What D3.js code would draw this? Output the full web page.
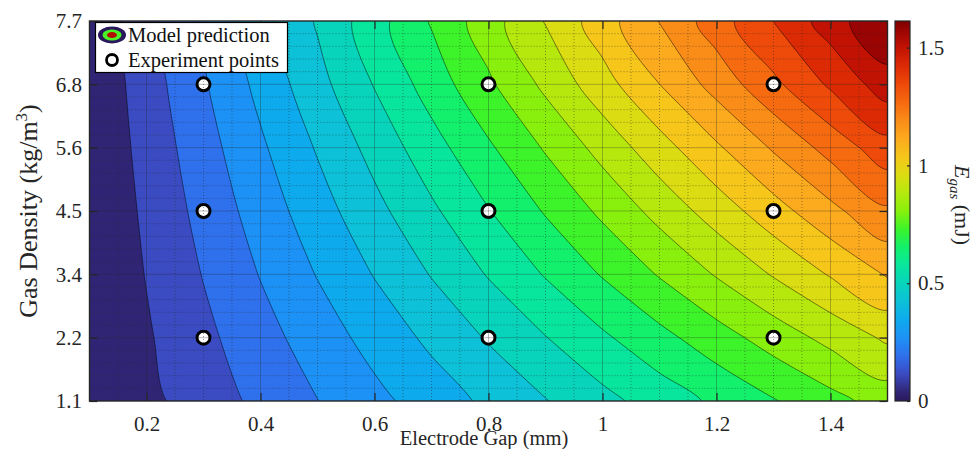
<!DOCTYPE html>
<html>
<head>
<meta charset="utf-8">
<script src="https://cdn.jsdelivr.net/npm/d3@7"></script>
<style>
  body { margin: 0; background: #fff; }
  svg { display: block; font-family: "Liberation Serif", "Times New Roman", serif; }
</style>
</head>
<body>
<svg id="chart" width="977" height="449"></svg>
<script>
// Electrode gap samples (mm): grid columns
const gapValues = [0.1, 0.2, 0.3, 0.4, 0.5, 0.6, 0.7, 0.8, 0.9, 1.0, 1.1, 1.2, 1.3, 1.4, 1.5];
// Gas density rows (kg/m^3), also used as the y tick labels
const densityValues = [1.1, 2.2, 3.4, 4.5, 5.6, 6.8, 7.7];

// Model prediction of E_gas (mJ) along each density row
const egasRho1_1 = [0.000, 0.057, 0.114, 0.172, 0.229, 0.286, 0.343, 0.400, 0.457, 0.515, 0.572, 0.629, 0.686, 0.743, 0.801];
const egasRho2_2 = [0.001, 0.068, 0.135, 0.201, 0.268, 0.335, 0.401, 0.468, 0.535, 0.602, 0.668, 0.735, 0.802, 0.868, 0.935];
const egasRho3_4 = [0.003, 0.080, 0.157, 0.234, 0.311, 0.388, 0.465, 0.543, 0.620, 0.697, 0.774, 0.851, 0.928, 1.005, 1.082];
const egasRho4_5 = [0.004, 0.091, 0.178, 0.264, 0.351, 0.438, 0.524, 0.611, 0.698, 0.784, 0.871, 0.957, 1.044, 1.131, 1.217];
const egasRho5_6 = [0.007, 0.103, 0.199, 0.295, 0.391, 0.487, 0.584, 0.680, 0.776, 0.872, 0.968, 1.064, 1.161, 1.257, 1.353];
const egasRho6_8 = [0.009, 0.116, 0.222, 0.329, 0.435, 0.542, 0.649, 0.755, 0.862, 0.968, 1.075, 1.181, 1.288, 1.395, 1.501];
const egasRho7_7 = [0.011, 0.126, 0.240, 0.355, 0.469, 0.583, 0.698, 0.812, 0.926, 1.041, 1.155, 1.270, 1.384, 1.498, 1.613];

// Experiment points (gap, density)
const expGap = [0.3, 0.3, 0.3, 0.8, 0.8, 0.8, 1.3, 1.3, 1.3];
const expDensity = [2.2, 4.5, 6.8, 2.2, 4.5, 6.8, 2.2, 4.5, 6.8];

// Axis ticks
const gapTicks = [0.2, 0.4, 0.6, 0.8, 1, 1.2, 1.4];
const colorbarTicks = [0, 0.5, 1, 1.5];
const levelCount = 20;

// Colormap (position along the colour range -> colour)
const cmapPos = [0, 0.024, 0.071, 0.119, 0.167, 0.214, 0.262, 0.310, 0.357, 0.405, 0.452, 0.500,
                 0.548, 0.595, 0.643, 0.690, 0.738, 0.786, 0.833, 0.881, 0.929, 0.976, 1];
const cmapHex = ["#2a185c", "#302574", "#3b4bc2", "#2f70ec", "#1d92f6", "#0eaaee", "#0cc1d8", "#08d4bc",
                 "#08e69e", "#12f06c", "#3cf42a", "#88f00c", "#b6e80e", "#dcdc12", "#f6c61a", "#fcaa1e",
                 "#fa8c18", "#f66a10", "#ee4a0a", "#dc2a05", "#c21203", "#9a0402", "#7e0000"];

const plot = { left: 89.5, right: 887.5, top: 21, bottom: 401 };
const cbar = { left: 895, right: 910 };
const ink = "#262626";

const svg = d3.select("#chart");
const defs = svg.append("defs");
defs.append("clipPath").attr("id", "plotClip").append("rect")
  .attr("x", plot.left).attr("y", plot.top)
  .attr("width", plot.right - plot.left).attr("height", plot.bottom - plot.top);

// Scales
const x = d3.scaleLinear().domain([gapValues[0], gapValues[gapValues.length - 1]]).range([plot.left, plot.right]);
const yIdx = d3.scaleLinear().domain([0, densityValues.length - 1]).range([plot.bottom, plot.top]);
const y = d3.scaleLinear().domain(densityValues).range(densityValues.map((d, i) => yIdx(i)));
const cmap = d3.scaleLinear().domain(cmapPos).range(cmapHex).interpolate(d3.interpolateRgb).clamp(true);

const egasGrid = [egasRho1_1, egasRho2_2, egasRho3_4, egasRho4_5, egasRho5_6, egasRho6_8, egasRho7_7];
const flat = egasGrid.flat();
const nx = gapValues.length, ny = densityValues.length;
const zMin = d3.min(flat), zMax = d3.max(flat);
const levelStep = (zMax - zMin) / (levelCount + 1);
const levels = d3.range(1, levelCount + 1).map(i => zMin + levelStep * i);
const tOf = v => (v - zMin) / (zMax - zMin);
// each band is shaded with the colour at the middle of its level interval
const bandColor = lower => cmap(tOf(lower + levelStep / 2));

// Filled contours
const contours = d3.contours().size([nx, ny]).thresholds(levels)(flat);
const gx = d3.scaleLinear().domain([0.5, nx - 0.5]).range([x(gapValues[0]), x(gapValues[nx - 1])]);
const gy = d3.scaleLinear().domain([0.5, ny - 0.5]).range([yIdx(0), yIdx(ny - 1)]);
const ringLine = d3.line().curve(d3.curveCatmullRomClosed.alpha(0.5));
const contourPath = c => c.coordinates.map(poly =>
  poly.map(ring => ringLine(ring.slice(0, -1).map(([a, b]) => [gx(a), gy(b)]))).join("")
).join("");

const field = svg.append("g").attr("clip-path", "url(#plotClip)");
field.append("rect")
  .attr("x", plot.left).attr("y", plot.top)
  .attr("width", plot.right - plot.left).attr("height", plot.bottom - plot.top)
  .attr("fill", bandColor(zMin));
field.selectAll("path.band").data(contours).join("path")
  .attr("class", "band")
  .attr("d", contourPath)
  .attr("fill", d => bandColor(d.value));
field.selectAll("path.iso").data(contours).join("path")
  .attr("class", "iso")
  .attr("d", contourPath)
  .attr("fill", "none")
  .attr("stroke", "#000")
  .attr("stroke-opacity", 0.8)
  .attr("stroke-width", 0.6);

// Experiment points
const pts = d3.range(expGap.length).map(i => ({ g: expGap[i], r: expDensity[i] }));
field.selectAll("circle.exp").data(pts).join("circle")
  .attr("class", "exp")
  .attr("cx", d => x(d.g)).attr("cy", d => y(d.r))
  .attr("r", 6.5)
  .attr("fill", "#fff")
  .attr("stroke", "#000")
  .attr("stroke-width", 3);

// Grid (drawn over the field)
const grid = svg.append("g").attr("clip-path", "url(#plotClip)");
const minorGap = d3.range(3, 30).filter(k => k % 4 !== 0).map(k => k * 0.05);
const minorRow = [];
for (let i = 0; i < ny - 1; i++) for (let j = 1; j < 5; j++) minorRow.push(yIdx(i + j / 5));
grid.selectAll("line.mx").data(minorGap).join("line")
  .attr("x1", d => x(d)).attr("x2", d => x(d))
  .attr("y1", plot.top).attr("y2", plot.bottom)
  .attr("stroke", ink).attr("stroke-opacity", 0.45)
  .attr("stroke-dasharray", "1,2").attr("stroke-width", 1);
grid.selectAll("line.my").data(minorRow).join("line")
  .attr("x1", plot.left).attr("x2", plot.right)
  .attr("y1", d => d).attr("y2", d => d)
  .attr("stroke", ink).attr("stroke-opacity", 0.45)
  .attr("stroke-dasharray", "1,2").attr("stroke-width", 1);
grid.selectAll("line.gx").data(gapTicks).join("line")
  .attr("x1", d => x(d)).attr("x2", d => x(d))
  .attr("y1", plot.top).attr("y2", plot.bottom)
  .attr("stroke", ink).attr("stroke-opacity", 0.3).attr("stroke-width", 1);
grid.selectAll("line.gy").data(densityValues.slice(1, -1)).join("line")
  .attr("x1", plot.left).attr("x2", plot.right)
  .attr("y1", d => y(d)).attr("y2", d => y(d))
  .attr("stroke", ink).attr("stroke-opacity", 0.3).attr("stroke-width", 1);

// Axes
const tickFont = "21px";
function styleAxis(g) {
  g.select(".domain").remove();
  g.selectAll(".tick line").attr("stroke", ink).attr("stroke-width", 1.2);
  g.selectAll(".tick text").attr("fill", ink).style("font-size", tickFont)
    .style("font-family", '"Liberation Serif", "Times New Roman", serif');
}
svg.append("g").attr("transform", `translate(0,${plot.bottom})`)
  .call(d3.axisBottom(x).tickValues(gapTicks).tickFormat(d3.format("~f"))
    .tickSizeInner(-8).tickSizeOuter(0).tickPadding(15))
  .call(styleAxis);
svg.append("g").attr("transform", `translate(0,${plot.top})`)
  .call(d3.axisTop(x).tickValues(gapTicks).tickFormat("").tickSizeInner(-8).tickSizeOuter(0))
  .call(styleAxis);
svg.append("g").attr("transform", `translate(${plot.left},0)`)
  .call(d3.axisLeft(y).tickValues(densityValues).tickFormat(d3.format(".1f"))
    .tickSizeInner(-8).tickSizeOuter(0).tickPadding(7.5))
  .call(styleAxis);
svg.append("g").attr("transform", `translate(${plot.right},0)`)
  .call(d3.axisRight(y).tickValues(densityValues).tickFormat("").tickSizeInner(-8).tickSizeOuter(0))
  .call(styleAxis);
svg.append("rect")
  .attr("x", plot.left).attr("y", plot.top)
  .attr("width", plot.right - plot.left).attr("height", plot.bottom - plot.top)
  .attr("fill", "none").attr("stroke", ink).attr("stroke-width", 1.4);

// Axis titles
svg.append("text")
  .attr("x", 484).attr("y", 445)
  .attr("text-anchor", "middle").attr("fill", ink).style("font-size", "20.5px")
  .text("Electrode Gap (mm)");
const yTitle = svg.append("text")
  .attr("transform", `translate(36.5,${(plot.top + plot.bottom) / 2}) rotate(-90)`)
  .attr("text-anchor", "middle").attr("fill", ink).style("font-size", "26px");
yTitle.append("tspan").text("Gas Density (kg/m");
yTitle.append("tspan").attr("dy", -10).style("font-size", "17px").text("3");
yTitle.append("tspan").attr("dy", 10).text(")");

// Colorbar
const cScale = d3.scaleLinear().domain([zMin, zMax]).range([plot.bottom, plot.top]);
const grad = defs.append("linearGradient").attr("id", "cbarGrad")
  .attr("x1", 0).attr("y1", 1).attr("x2", 0).attr("y2", 0);
grad.selectAll("stop").data(d3.range(0, 1.0001, 0.01)).join("stop")
  .attr("offset", d => d).attr("stop-color", d => cmap(d));
svg.append("rect")
  .attr("x", cbar.left).attr("y", plot.top)
  .attr("width", cbar.right - cbar.left).attr("height", plot.bottom - plot.top)
  .attr("fill", "url(#cbarGrad)").attr("stroke", ink).attr("stroke-width", 1.2);
svg.append("g").attr("transform", `translate(${cbar.right},0)`)
  .call(d3.axisRight(cScale).tickValues(colorbarTicks).tickFormat(d3.format("~f"))
    .tickSizeInner(-3).tickSizeOuter(0).tickPadding(8))
  .call(styleAxis);
const cTitle = svg.append("text")
  .attr("transform", "translate(955,205) rotate(90)")
  .attr("text-anchor", "middle").attr("fill", ink).style("font-size", "22px");
cTitle.append("tspan").style("font-style", "italic").text("E");
cTitle.append("tspan").attr("dy", 5).style("font-style", "italic").style("font-size", "15px").text("gas");
cTitle.append("tspan").attr("dy", -5).text("\u00a0(mJ)");

// Legend
const legend = svg.append("g");
legend.append("rect")
  .attr("x", 95.5).attr("y", 22.5).attr("width", 192).attr("height", 50)
  .attr("fill", "#fff").attr("stroke", "#000").attr("stroke-width", 1.2);
const icon = legend.append("g").attr("transform", "translate(112,35)");
icon.append("ellipse").attr("rx", 14).attr("ry", 8.5).attr("fill", cmap(0));
icon.append("ellipse").attr("rx", 9.5).attr("ry", 5.5).attr("fill", cmap(0.46));
icon.append("ellipse").attr("rx", 5).attr("ry", 3).attr("fill", cmap(0.95));
legend.append("circle").attr("cx", 112).attr("cy", 60).attr("r", 5.5)
  .attr("fill", "#fff").attr("stroke", "#000").attr("stroke-width", 2.8);
legend.append("text").attr("x", 128).attr("y", 41.5).attr("fill", "#111")
  .style("font-size", "20.5px").text("Model prediction");
legend.append("text").attr("x", 128).attr("y", 66.5).attr("fill", "#111")
  .style("font-size", "20.5px").text("Experiment points");
</script>
</body>
</html>
